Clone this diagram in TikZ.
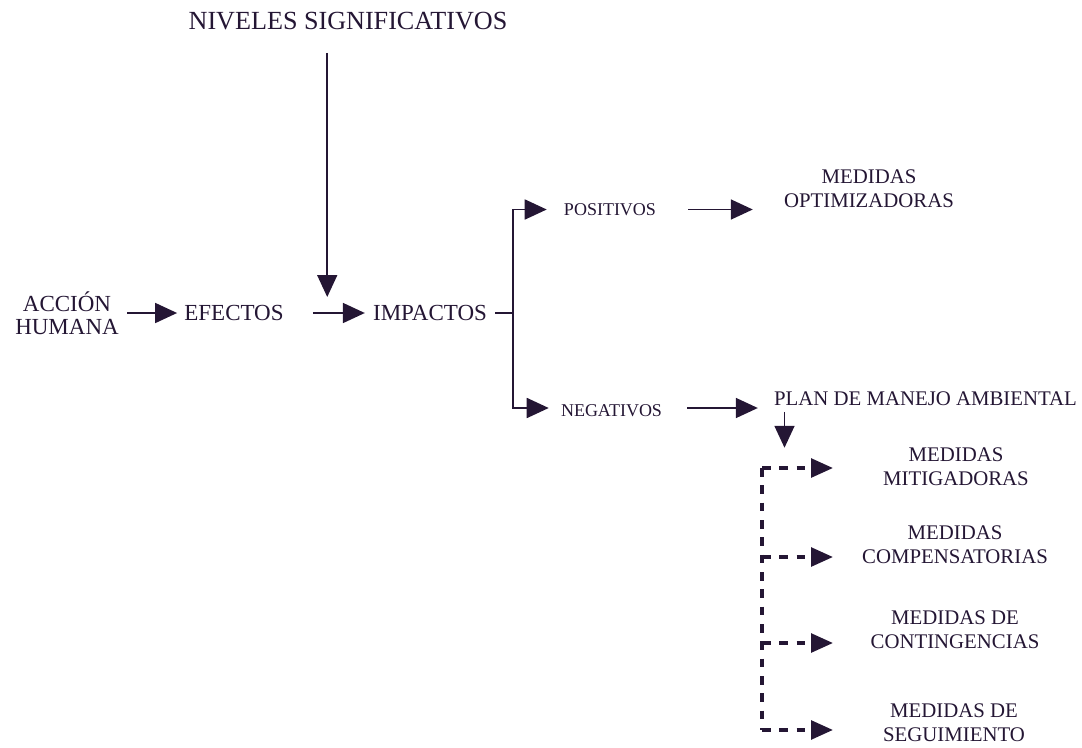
\documentclass[tikz,border=0pt]{standalone}
\usepackage{fontspec}
\setmainfont{Liberation Serif}
\usetikzlibrary{arrows.meta}
\definecolor{ink}{RGB}{36,22,52}

\begin{document}
\begin{tikzpicture}
        [x=0.75pt,y=-0.75pt,inner sep=0pt,color=ink,text=ink,
         big/.style={font=\fontsize{19.6}{21}\selectfont},
         main/.style={font=\fontsize{17.25}{17.25}\selectfont,align=center},
         med/.style={font=\fontsize{15.6}{18}\selectfont,align=center},
         small/.style={font=\fontsize{13.5}{15}\selectfont},
         arr/.style={line width=1.3pt,-{Triangle[length=16.5pt,width=15pt]}},
         dsh/.style={line width=2.8pt,dash pattern=on 6.5pt off 6.5pt},
         darr/.style={dsh,-{Triangle[length=16.5pt,width=14pt]}}]
        \useasboundingbox (0,0) rectangle (1082,747);

        \node[big] (niv) at (348,21) {NIVELES SIGNIFICATIVOS};
        \node[main] (acc) at (67,313) {ACCIÓN\\HUMANA};
        \node[main] (efe) at (234,313) {EFECTOS};
        \node[main] (imp) at (430,313) {IMPACTOS};
        \node[small] (pos) at (610,209.5) {POSITIVOS};
        \node[small] (neg) at (611.5,411) {NEGATIVOS};
        \node[med] (opt) at (869,189) {MEDIDAS\\OPTIMIZADORAS};
        \node[med] (pma) at (925.5,398.5) {PLAN DE MANEJO AMBIENTAL};
        \node[med] (mit) at (956,467) {MEDIDAS\\MITIGADORAS};
        \node[med] (com) at (955,545) {MEDIDAS\\COMPENSATORIAS};
        \node[med] (con) at (955,630) {MEDIDAS DE\\CONTINGENCIAS};
        \node[med] (seg) at (954,722.5) {MEDIDAS DE\\SEGUIMIENTO};

        % main chain
        \draw[arr] ([xshift=6pt]acc.east) -- ([xshift=-5.25pt]efe.west);
        \draw[arr] ([xshift=21.75pt]efe.east) -- coordinate[pos=0.276] (hit) ([xshift=-6pt]imp.west);
        \draw[arr] ([yshift=-17pt]niv.south -| hit) -- ([yshift=12pt]hit);

        % positive / negative branches
        \draw[line width=1.3pt] ([xshift=6pt]imp.east) -- ++(18,0) coordinate (fork);
        \draw[arr] (fork) |- ([xshift=-12.75pt]pos.west);
        \draw[arr] (fork) |- ([xshift=-9pt,yshift=2.25pt]neg.west);
        \draw[arr] ([xshift=24pt]pos.east) -- ([xshift=-23.25pt]opt.west |- pos.east);
        \draw[arr] ([xshift=18.75pt,yshift=2.25pt]neg.east) -- ([xshift=-12pt,yshift=2.25pt]pma.west |- neg.east);

        % plan de manejo
        \draw[arr] ([xshift=8pt,yshift=-4.5pt]pma.south west) -- ++(0,36);
        \coordinate (trunk) at (762,468);
        \draw[dsh] (trunk) -- ([yshift=-5.6pt]trunk |- seg);
        \foreach \n/\d in {mit/-0.75pt,com/-9pt,con/-9.75pt,seg/-5.6pt}
        {\draw[darr] ([yshift=\d]trunk |- \n) -- ++(71,0);}
      \end{tikzpicture}
\end{document}
